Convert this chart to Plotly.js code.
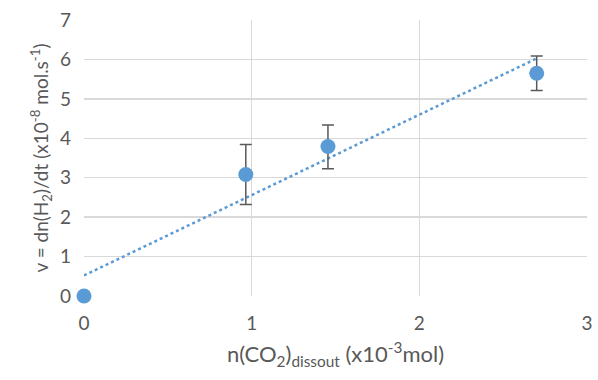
<!DOCTYPE html>
<html><head><meta charset="utf-8">
<script src="https://cdn.plot.ly/plotly-3.0.1.min.js"></script>
<style>html,body{margin:0;padding:0;background:#fff}#c{width:598px;height:380px}</style>
</head><body><div id="c"></div>
<script>
const xVals = [0, 0.965, 1.455, 2.70];
const yVals = [0, 3.08, 3.79, 5.65];
const errPlus = [0, 0.76, 0.55, 0.44];
const errMinus = [0, 0.76, 0.56, 0.44];
const xTicks = [0, 1, 2, 3];
const yTicks = [0, 1, 2, 3, 4, 5, 6, 7];

// linear trendline (least squares) from the data
const n = xVals.length;
const mx = xVals.reduce((a,b)=>a+b,0)/n, my = yVals.reduce((a,b)=>a+b,0)/n;
let sxy=0, sxx=0;
for (let i=0;i<n;i++){ sxy+=(xVals[i]-mx)*(yVals[i]-my); sxx+=(xVals[i]-mx)**2; }
const slope = sxy/sxx, icpt = my - slope*mx;
const tx = [Math.min(...xVals), Math.max(...xVals)];
const ty = tx.map(x=>icpt+slope*x);

const font = "Lato, sans-serif";
const traces = [
  {x: tx, y: ty, mode:'lines', line:{color:'#5B9BD5', width:2.5, dash:'dot'}, hoverinfo:'skip', cliponaxis:false},
  {x: xVals, y: yVals, mode:'markers', marker:{color:'#5B9BD5', size:15}, cliponaxis:false,
   error_y:{type:'data', symmetric:false, array:errPlus, arrayminus:errMinus, color:'#595959', thickness:1.5, width:6}}
];
const layout = {
  width:598, height:380, showlegend:false,
  paper_bgcolor:'#fff', plot_bgcolor:'#fff',
  margin:{l:84, r:11, t:20, b:84},
  font:{family:font, color:'#595959', size:19},
  xaxis:{range:[0,3], tickvals:xTicks, showgrid:true, gridcolor:'#D9D9D9', gridwidth:1.5,
    zeroline:false, showline:false, ticks:'', ticklabelstandoff:14,
    tickfont:{family:font, size:19, color:'#595959'},
    title:{text:'n(CO<sub>2</sub>)<sub>dissout</sub> (x10<sup>-3</sup>mol)', font:{family:font, size:22, color:'#595959'}, standoff:13}},
  yaxis:{range:[0,7], tickvals:yTicks, showgrid:true, gridcolor:'#D9D9D9', gridwidth:1.5,
    zeroline:false, showline:false, ticks:'', ticklabelstandoff:12,
    tickfont:{family:font, size:19, color:'#595959'},
    title:{text:'v = dn(H<sub>2</sub>)/dt (x10<sup>-8</sup> mol.s<sup>-1</sup>)', font:{family:font, size:19, color:'#595959'}, standoff:6}}
};
Plotly.newPlot('c', traces, layout, {displayModeBar:false, staticPlot:true});
</script></body></html>
